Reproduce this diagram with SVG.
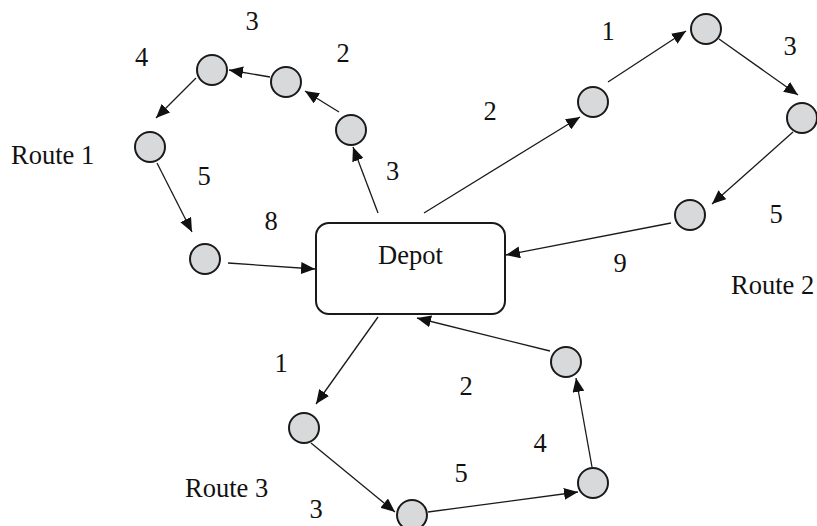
<svg xmlns="http://www.w3.org/2000/svg" width="817" height="526" viewBox="0 0 817 526">
<style>
.n{fill:#d8d9db;stroke:#1a1a1a;stroke-width:2}
.d{fill:#fff;stroke:#1a1a1a;stroke-width:2}
.e{stroke:#1a1a1a;stroke-width:1.3;fill:none;marker-end:url(#ah)}
text{font-family:"Liberation Serif","Times New Roman",serif;font-size:26.5px;fill:#111}
.c{text-anchor:middle}
</style>
<defs>
<marker id="ah" viewBox="0 0 14 12" refX="14" refY="6" markerWidth="14" markerHeight="12" markerUnits="userSpaceOnUse" orient="auto">
<path d="M0,0 L14,6 L0,12 z" fill="#111"/>
</marker>
</defs>
<rect width="817" height="526" fill="#fff"/>
<g id="connectors">
<line class="e" x1="378" y1="213" x2="353" y2="147"/>
<line class="e" x1="339" y1="112" x2="305" y2="91"/>
<line class="e" x1="270" y1="77" x2="229" y2="70"/>
<line class="e" x1="196" y1="78" x2="156" y2="118"/>
<line class="e" x1="157" y1="163" x2="192" y2="232"/>
<line class="e" x1="228" y1="263" x2="315" y2="269"/>
<line class="e" x1="424" y1="213" x2="580" y2="117"/>
<line class="e" x1="608" y1="82" x2="686" y2="31"/>
<line class="e" x1="719" y1="39" x2="798" y2="95"/>
<line class="e" x1="793" y1="132" x2="712" y2="204"/>
<line class="e" x1="671" y1="223" x2="506" y2="255"/>
<line class="e" x1="378" y1="317" x2="316" y2="404"/>
<line class="e" x1="311" y1="443" x2="395" y2="512"/>
<line class="e" x1="428" y1="512" x2="578" y2="492"/>
<line class="e" x1="592" y1="467" x2="576" y2="378"/>
<line class="e" x1="550" y1="351" x2="417" y2="318"/>
</g>
<g id="depot"><rect class="d" x="316" y="223" width="189" height="91" rx="13"/><text class="c" x="410.5" y="264">Depot</text></g>
<g id="r1a"><circle class="n" cx="212" cy="70" r="15"/></g>
<g id="r1b"><circle class="n" cx="286" cy="82" r="15"/></g>
<g id="r1c"><circle class="n" cx="351" cy="130" r="15"/></g>
<g id="r1d"><circle class="n" cx="150" cy="147" r="15"/></g>
<g id="r1e"><circle class="n" cx="205" cy="259" r="15"/></g>
<g id="r2a"><circle class="n" cx="593" cy="102" r="15"/></g>
<g id="r2b"><circle class="n" cx="706" cy="29" r="15"/></g>
<g id="r2c"><circle class="n" cx="802" cy="118" r="15"/></g>
<g id="r2d"><circle class="n" cx="690" cy="215" r="15"/></g>
<g id="r3a"><circle class="n" cx="304" cy="428" r="15"/></g>
<g id="r3b"><circle class="n" cx="412" cy="515" r="15"/></g>
<g id="r3c"><circle class="n" cx="593" cy="483" r="15"/></g>
<g id="r3d"><circle class="n" cx="566" cy="362" r="15"/></g>
<g id="labels">
<text x="11" y="164">Route 1</text>
<text x="731" y="294">Route 2</text>
<text x="185" y="497">Route 3</text>
<text class="c" x="252" y="30">3</text>
<text class="c" x="141.5" y="66">4</text>
<text class="c" x="343" y="62">2</text>
<text class="c" x="204" y="185">5</text>
<text class="c" x="392.5" y="180">3</text>
<text class="c" x="271" y="230">8</text>
<text class="c" x="608" y="39.5">1</text>
<text class="c" x="790" y="55">3</text>
<text class="c" x="490" y="120">2</text>
<text class="c" x="776" y="223">5</text>
<text class="c" x="620" y="272">9</text>
<text class="c" x="281" y="372">1</text>
<text class="c" x="466" y="395">2</text>
<text class="c" x="540" y="452">4</text>
<text class="c" x="461" y="482">5</text>
<text class="c" x="316" y="518">3</text>
</g>
</svg>
